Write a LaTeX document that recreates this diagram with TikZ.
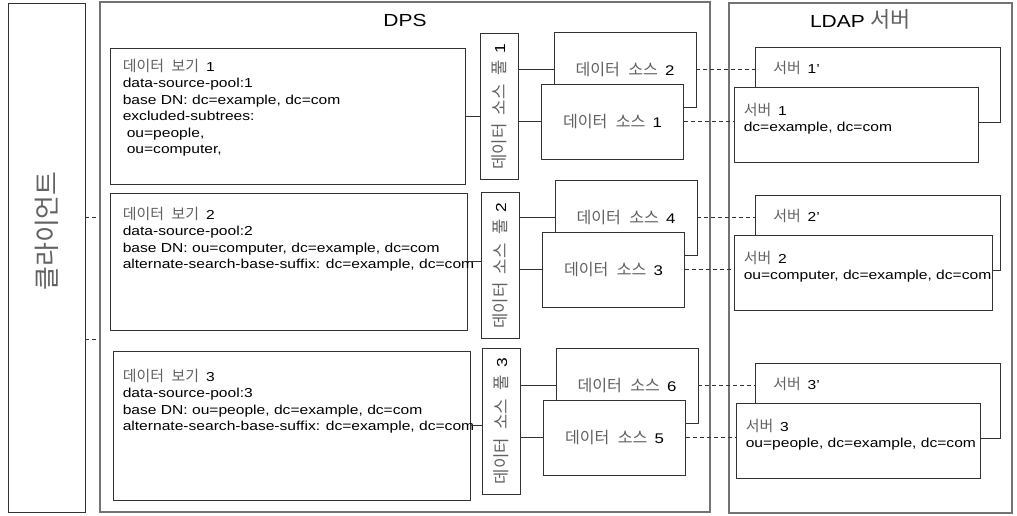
\documentclass[tikz,border=0pt]{standalone}
\usepackage{fontspec}
\setmainfont{Liberation Sans}[FakeStretch=1.2]
\newfontfamily\krfont{Noto Sans CJK KR}[WordSpace=2.3,Scale=1.15]
\usepackage{xcolor}
\usetikzlibrary{positioning}
\definecolor{krgray}{gray}{0.38}
\newcommand\ko[1]{{\krfont\color{krgray}#1}}
\newcommand\kn[2]{\ko{#1}\hspace{2.5pt} #2}

\begin{document}
\begin{tikzpicture}[x=1pt,y=-1pt,
        box/.style={draw=black!80,line width=0.9pt,fill=white,inner sep=0pt},
        frame/.style={draw=black!55,line width=1.2pt,inner sep=0pt},
        dsbox/.style={box,minimum width=142,minimum height=75,font=\fontsize{14}{16}\selectfont},
        pool/.style={box,minimum width=38,minimum height=146,font=\fontsize{14.5}{16}\selectfont},
        srvbox/.style={box,minimum height=75},
        txt/.style={anchor=north west,inner sep=0pt,align=left,font=\fontsize{13}{16.5}\selectfont},
        wire/.style={draw=black!80,line width=0.9pt},
        link/.style={draw=black!80,line width=0.9pt,dash pattern=on 4pt off 3pt}]
                \useasboundingbox (0,0) rectangle (1017,515);
                \node[box,minimum width=77,minimum height=509](client) at (46.5,258){};
                \node[font=\fontsize{22.5}{26}\selectfont](clientlbl) at ([yshift=27]client.center){\rotatebox{90}{\ko{클라이언트}}};
                \node[frame,minimum width=610,minimum height=510](dps) at (405,257){};
                \node[font=\fontsize{17.5}{20}\selectfont](dpslbl) at ([yshift=-19]dps.north){DPS};
                \node[frame,minimum width=283,minimum height=510](ldap) at (870.5,258){};
                \node[font=\fontsize{17.5}{20}\selectfont](ldaplbl) at ([xshift=-10,yshift=-17]ldap.north){LDAP \ko{\fontsize{19}{22}\selectfont 서버}};
                \node[box,minimum width=355,minimum height=136](view1) at (287.5,116){};
                \node[txt](view1txt) at ([xshift=13,yshift=-11]view1.north west){\kn{데이터 보기}{1}\\data-source-pool:1\\base DN: dc=example, dc=com\\excluded-subtrees:\\\hspace*{4pt}ou=people,\\\hspace*{4pt}ou=computer,};
                \node[box,minimum width=357,minimum height=137](view2) at (288.5,261.5){};
                \node[txt](view2txt) at ([xshift=13,yshift=-14]view2.north west){\kn{데이터 보기}{2}\\data-source-pool:2\\base DN: ou=computer, dc=example, dc=com\\alternate-search-base-suffix: dc=example, dc=com};
                \node[box,minimum width=357,minimum height=149](view3) at (291.5,425.5){};
                \node[txt](view3txt) at ([xshift=10,yshift=-18]view3.north west){\kn{데이터 보기}{3}\\data-source-pool:3\\base DN: ou=people, dc=example, dc=com\\alternate-search-base-suffix: dc=example, dc=com};
                \foreach \r/\dx/\dy/\py/\a/\b/\sx/\sw/\dn in {
                    1/0/0/106.5/2/1/856/244/{dc=example, dc=com},
                    2/1/148/265.5/4/3/863/258/{ou=computer, dc=example, dc=com},
                    3/2/316/421/6/5/858/244/{ou=people, dc=example, dc=com}
                }
                {
                    \node[pool](pool\r) at (499+\dx,\py){\rotatebox{90}{\kn{데이터 소스 풀}{\r}}};
                    \node[dsbox](ds\a) at (625+\dx,69.5+\dy){\kn{데이터 소스}{\a}};
                    \node[dsbox](ds\b) at (612.5+\dx,121.5+\dy){\kn{데이터 소스}{\b}};
                    \node[srvbox,minimum width=245](srvp\r) at (878,84.5+\dy){};
                    \node[txt](srvptxt\r) at ([xshift=18,yshift=-14]srvp\r.north west){\kn{서버}{\r’}};
                    \node[srvbox,minimum width=\sw](srv\r) at (\sx,124.5+\dy){};
                    \node[txt](srvtxt\r) at ([xshift=10,yshift=-16]srv\r.north west){\kn{서버}{\r}\\\dn};
                    \draw[wire] (pool\r.east |- ds\a.west) -- (ds\a.west);
                    \draw[wire] (pool\r.east |- ds\b.west) -- (ds\b.west);
                    \draw[link] (ds\a.east) -- (ds\a.east -| srvp\r.west);
                    \draw[link] (ds\b.east) -- (ds\b.east -| srv\r.west);
                }
                \draw[wire] (view1.east) -- (view1.east -| pool1.west);
                \draw[wire] (view2.east) -- (view2.east -| pool2.west);
                \draw[wire] (view3.east) -- (view3.east -| pool3.west);
                \draw[link] (client.east |- ds4.west) -- (ds4.west -| dps.west);
                \draw[link] (client.east |- pool2.south) -- (pool2.south -| dps.west);
            \end{tikzpicture}
\end{document}
